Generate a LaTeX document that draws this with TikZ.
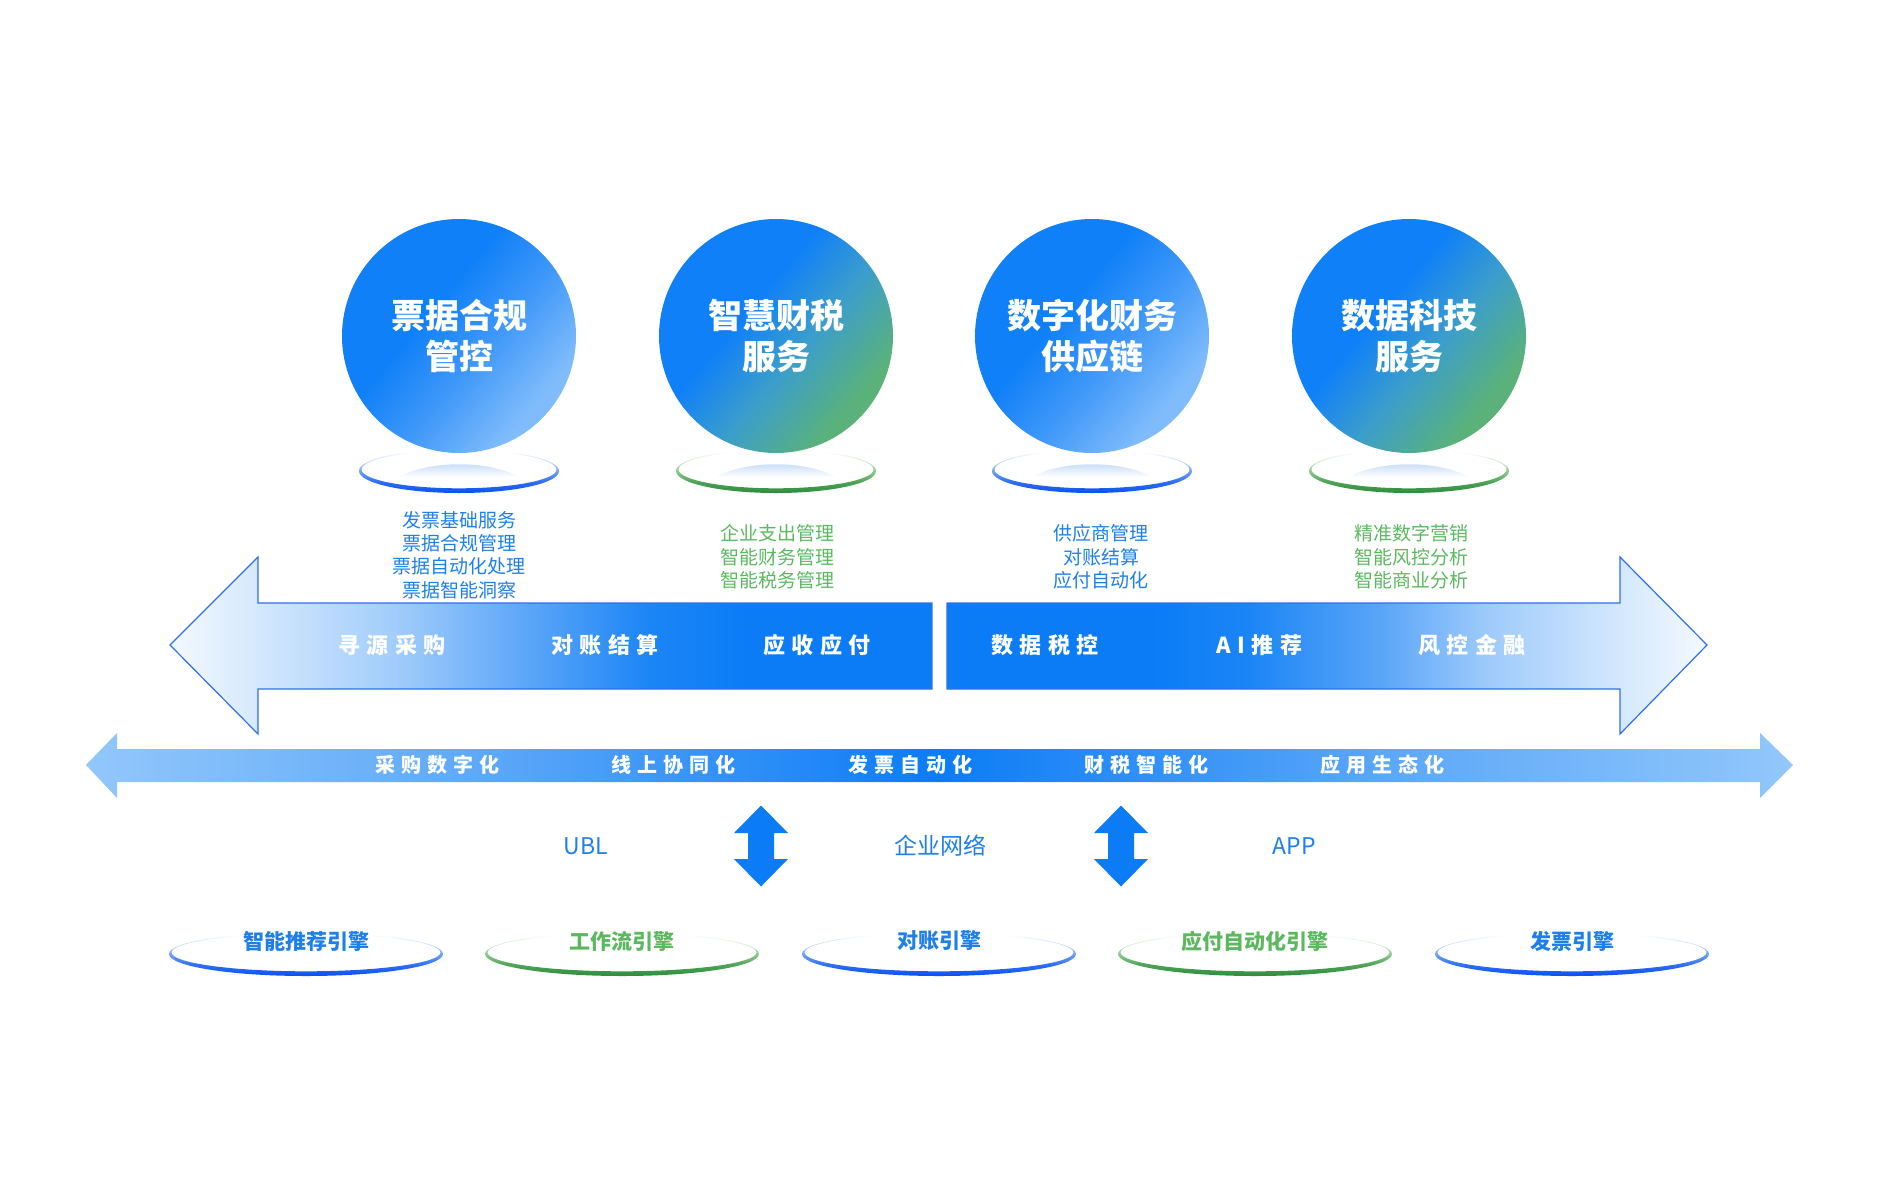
\documentclass[tikz,border=0pt]{standalone}
\usepackage{fontspec}
\setmainfont{Noto Sans CJK SC}
\newfontfamily\cjk{Noto Sans CJK SC}
\newfontfamily\cjksp{Noto Sans CJK SC}[LetterSpace=30]
\usetikzlibrary{calc}
\definecolor{mblue}{HTML}{0B7CF6}
\definecolor{tblue}{HTML}{1E7FEA}
\definecolor{tgreen}{HTML}{5BB85F}
\definecolor{eblue}{HTML}{0A50F2}
\definecolor{ebluea}{HTML}{2F6FF3}
\definecolor{eblueb}{HTML}{6FA3F4}
\definecolor{ebluec}{HTML}{C9DCFA}
\definecolor{egreen}{HTML}{2E8C3C}
\definecolor{egreena}{HTML}{4FA457}
\definecolor{egreenb}{HTML}{8FC992}
\definecolor{egreenc}{HTML}{D5EBD6}
\definecolor{outl}{HTML}{2F6FEE}
\definecolor{la0}{HTML}{F4F9FF}
\definecolor{la1}{HTML}{D4E8FD}
\definecolor{la2}{HTML}{9FCBFB}
\definecolor{la3}{HTML}{5AA5F8}
\definecolor{la4}{HTML}{1B85F6}
\definecolor{b0}{HTML}{92C7FB}
\definecolor{b1}{HTML}{5BA7F8}
\definecolor{c0}{HTML}{1080F8}
\definecolor{c1}{HTML}{3F98F9}
\definecolor{c2}{HTML}{80BCFB}
\definecolor{g1}{HTML}{3C9ECB}
\definecolor{g2}{HTML}{5AB27A}
\definecolor{hl}{HTML}{B9D4F6}
\pgfdeclarehorizontalshading{leftarr}{100bp}{color(0bp)=(la0); color(25bp)=(la0); color(30.8bp)=(la1); color(40.1bp)=(la2); color(48.6bp)=(la3); color(56.5bp)=(la4); color(63bp)=(mblue); color(100bp)=(mblue)}
\pgfdeclarehorizontalshading{rightarr}{100bp}{color(0bp)=(mblue); color(38.4bp)=(mblue); color(44.9bp)=(la4); color(53.5bp)=(la3); color(60.7bp)=(la2); color(69.3bp)=(la1); color(75bp)=(la0); color(100bp)=(la0)}
\pgfdeclarehorizontalshading{band}{100bp}{color(0bp)=(b0); color(25bp)=(b0); color(37bp)=(b1); color(50bp)=(mblue); color(63bp)=(b1); color(75bp)=(b0); color(100bp)=(b0)}
\pgfdeclarehorizontalshading{circb}{100bp}{color(0bp)=(c0); color(42bp)=(c0); color(56bp)=(c1); color(72bp)=(c2); color(100bp)=(c2)}
\pgfdeclarehorizontalshading{circg}{100bp}{color(0bp)=(c0); color(42bp)=(c0); color(56bp)=(g1); color(72bp)=(g2); color(100bp)=(g2)}
\pgfdeclareverticalshading{ringb}{100bp}{color(0bp)=(eblue); color(25bp)=(eblue); color(38bp)=(ebluea); color(50bp)=(eblueb); color(62bp)=(ebluec); color(72bp)=(white); color(100bp)=(white)}
\pgfdeclareverticalshading{ringg}{100bp}{color(0bp)=(egreen); color(25bp)=(egreen); color(38bp)=(egreena); color(50bp)=(egreenb); color(62bp)=(egreenc); color(72bp)=(white); color(100bp)=(white)}
\pgfdeclareverticalshading{hlsh}{100bp}{color(0bp)=(white); color(25bp)=(white); color(75bp)=(hl); color(100bp)=(hl)}
\newcommand\ringshape[5]{%
  \path[shade, shading=#5, even odd rule] (#1,#2) ellipse [x radius=#3, y radius=#4] (#1,#2-1.5) ellipse [x radius=#3-2.5, y radius=#4-3.2];}
\newcommand\glowshape[2]{%
  \path[shade, shading=hlsh] (#1-60,#2+7) .. controls (#1-30,#2-10) and (#1+30,#2-10) .. (#1+60,#2+7) -- cycle;}
\tikzset{
  titletext/.style={text=white, font=\cjk\bfseries\fontsize{34}{41}\selectfont, align=center, inner sep=0pt},
  subtext/.style={font=\cjk\fontsize{19}{23.4}\selectfont, align=center, inner sep=0pt},
  arrlbl/.style={text=white, font=\cjksp\bfseries\fontsize{22}{26}\selectfont, inner sep=0pt},
  bandlbl/.style={text=white, font=\cjksp\bfseries\fontsize{20}{24}\selectfont, inner sep=0pt},
  engine/.style={font=\cjk\bfseries\fontsize{21}{25}\selectfont, inner sep=0pt},
  proto/.style={text=tblue, font=\cjk\fontsize{23}{27}\selectfont, inner sep=0pt},
  ball/.style={circle, minimum size=234pt, inner sep=0pt, shade},
}
\begin{document}
\begin{tikzpicture}[x=1pt,y=-1pt]
\useasboundingbox (0,0) rectangle (1880,1200);

% under-ball rings and glows
\ringshape{459}{471}{100}{22}{ringb}
\ringshape{776}{471}{100}{22}{ringg}
\ringshape{1092}{471}{100}{22}{ringb}
\ringshape{1409}{471}{100}{22}{ringg}
\glowshape{459}{470}
\glowshape{776}{470}
\glowshape{1092}{470}
\glowshape{1409}{470}

% balls
\node[ball, shading=circb, shading angle=-40, titletext] (c1) at (459,336) {票据合规\\管控};
\node[ball, shading=circg, shading angle=-40, titletext] (c2) at (776,336) {智慧财税\\服务};
\node[ball, shading=circb, shading angle=-40, titletext] (c3) at (1092,336) {数字化财务\\供应链};
\node[ball, shading=circg, shading angle=-40, titletext] (c4) at (1409,336) {数据科技\\服务};

% sub texts
\node[subtext, text=tblue] (s1) at (459,555) {发票基础服务\\票据合规管理\\票据自动化处理\\票据智能洞察};
\node[subtext, text=tgreen] (s2) at (777,557) {企业支出管理\\智能财务管理\\智能税务管理};
\node[subtext, text=tblue] (s3) at (1101,557) {供应商管理\\对账结算\\应付自动化};
\node[subtext, text=tgreen] (s4) at (1411,557) {精准数字营销\\智能风控分析\\智能商业分析};

% big arrows
\path[shade, shading=leftarr, draw=outl, line width=1.2pt] (170,645) -- (258,557) -- (258,603) -- (932,603) -- (932,689) -- (258,689) -- (258,734) -- cycle;
\path[shade, shading=rightarr, draw=outl, line width=1.2pt] (947,603) -- (1620,603) -- (1620,557) -- (1707,645) -- (1620,734) -- (1620,689) -- (947,689) -- cycle;
\node[arrlbl] (a1) at (392,645) {寻源采购};
\node[arrlbl] (a2) at (605,645) {对账结算};
\node[arrlbl] (a3) at (817,645) {应收应付};
\node[arrlbl] (a4) at (1045,645) {数据税控};
\node[arrlbl] (a5) at (1259,645) {AI推荐};
\node[arrlbl] (a6) at (1472,645) {风控金融};

% long band
\path[shade, shading=band] (86,765) -- (117,733) -- (117,749) -- (1760,749) -- (1760,733) -- (1793,765) -- (1760,798) -- (1760,782) -- (117,782) -- (117,798) -- cycle;
\node[bandlbl] (b1) at (437,765) {采购数字化};
\node[bandlbl] (b2) at (673,765) {线上协同化};
\node[bandlbl] (b3) at (910,765) {发票自动化};
\node[bandlbl] (b4) at (1146,765) {财税智能化};
\node[bandlbl] (b5) at (1382,765) {应用生态化};

% protocol row
\node[proto] (p1) at (586,846) {UBL};
\node[proto] (p2) at (940,846) {企业网络};
\node[proto] (p3) at (1294,846) {APP};
\coordinate (v1) at (761,846);
\coordinate (v2) at (1121,846);
\foreach \v in {v1,v2}{
  \fill[mblue, shift={(\v)}] (0,-40.5) -- (27,-13) -- (13,-13) -- (13,13) -- (27,13) -- (0,40.5) -- (-27,13) -- (-13,13) -- (-13,-13) -- (-27,-13) -- cycle;
}

% engines
\ringshape{306}{954}{137}{22}{ringb}
\ringshape{622}{954}{137}{22}{ringg}
\ringshape{939}{954}{137}{22}{ringb}
\ringshape{1255}{954}{137}{22}{ringg}
\ringshape{1572}{954}{137}{22}{ringb}
\node[engine, text=tblue] (e1) at (306,941) {智能推荐引擎};
\node[engine, text=tgreen] (e2) at (622,941) {工作流引擎};
\node[engine, text=tblue] (e3) at (939,941) {对账引擎};
\node[engine, text=tgreen] (e4) at (1255,941) {应付自动化引擎};
\node[engine, text=tblue] (e5) at (1572,941) {发票引擎};
\end{tikzpicture}
\end{document}
